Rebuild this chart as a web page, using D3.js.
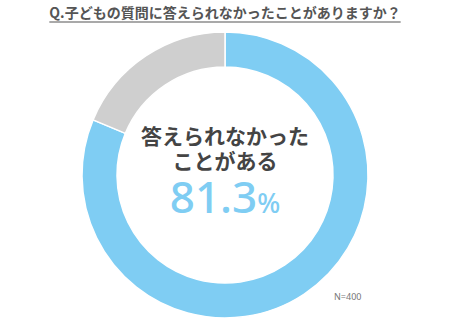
<!DOCTYPE html>
<html>
<head>
<meta charset="utf-8">
<script src="https://cdn.jsdelivr.net/npm/d3@7"></script>
<style>
  body { margin: 0; background: #fff; }
  svg { display: block; }
</style>
</head>
<body>
<div id="chart"></div>
<script>
const labels = ['ある', 'ない'];
const values = [81.3, 18.7];
const colors = ['#7fcdf3', '#cfcfcf'];
const title = 'Q.子どもの質問に答えられなかったことがありますか？';
const centerLines = ['答えられなかった', 'ことがある'];
const note = 'N=400';

const width = 450;
const height = 324;
const cx = 225;
const cy = 175;
const outerR = 143;
const innerR = 108;

const svg = d3.select('#chart')
  .append('svg')
  .attr('width', width)
  .attr('height', height);

// title with underline
const t = svg.append('text')
  .attr('x', width / 2)
  .attr('y', 18)
  .attr('text-anchor', 'middle')
  .style('font-family', '"Noto Sans CJK JP", sans-serif')
  .style('font-size', '14px')
  .style('font-weight', '700')
  .style('fill', '#555')
  .text(title);

const bb = t.node().getBBox();
svg.append('line')
  .attr('x1', bb.x)
  .attr('x2', bb.x + bb.width)
  .attr('y1', 22)
  .attr('y2', 22)
  .attr('stroke', '#555')
  .attr('stroke-width', 1.2);

const pie = d3.pie().sort(null).value(d => d);
const arc = d3.arc().innerRadius(innerR).outerRadius(outerR);

const g = svg.append('g')
  .attr('transform', `translate(${cx},${cy})`);

g.selectAll('path')
  .data(pie(values))
  .enter()
  .append('path')
  .attr('d', arc)
  .attr('fill', (d, i) => colors[i])
  .attr('stroke', '#fff')
  .attr('stroke-width', 1.5);

// center text
g.selectAll('text.line')
  .data(centerLines)
  .enter()
  .append('text')
  .attr('class', 'line')
  .attr('x', 0)
  .attr('y', (d, i) => -31 + i * 25)
  .attr('text-anchor', 'middle')
  .style('font-family', '"Noto Sans CJK JP", sans-serif')
  .style('font-size', '21px')
  .style('font-weight', '700')
  .style('fill', '#444')
  .text(d => d);

const pct = g.append('text')
  .attr('x', 0)
  .attr('y', 38)
  .attr('text-anchor', 'middle')
  .style('font-family', '"Noto Sans", sans-serif')
  .style('font-weight', '500')
  .style('fill', colors[0]);
pct.append('tspan').style('font-size', '44px').text(values[0].toFixed(1));
pct.append('tspan').style('font-size', '27px').text('%');

svg.append('text')
  .attr('x', 334)
  .attr('y', 300)
  .style('font-family', '"Noto Sans", sans-serif')
  .style('font-size', '9px')
  .style('fill', '#777')
  .text(note);
</script>
</body>
</html>
